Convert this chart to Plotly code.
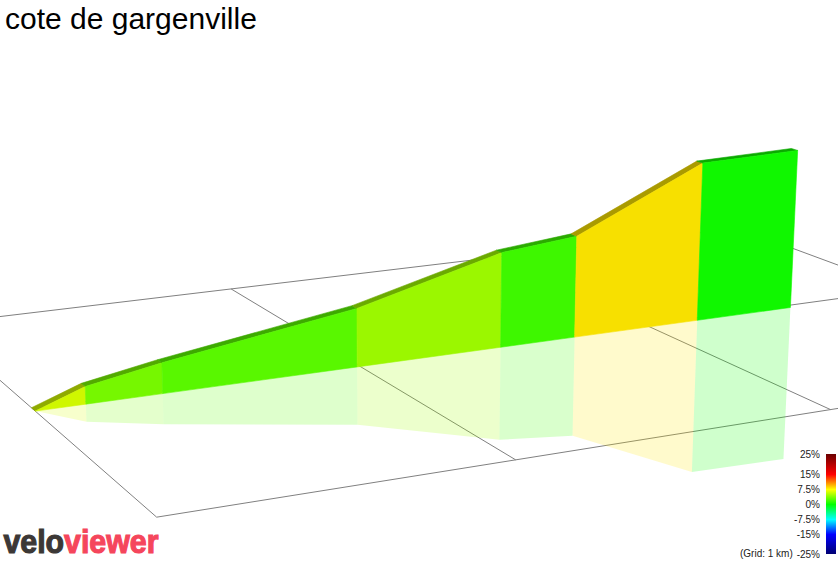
import numpy as np
import plotly.graph_objects as go

# --- profile data ---
title_text = "cote de gargenville"
distance_km = [0.0, 0.148, 0.378, 0.99, 1.471, 1.73, 2.176, 2.53]
elevation_m = [0.0, 10.1, 17.9, 35.0, 57.8, 62.4, 98.8, 100.5]
gradient_pct = [6.3, 3.6, 2.7, 4.7, 1.9, 8.2, 0.5]

# --- ground grid (km) ---
grid_x_km = [0, 1, 2, 3]
grid_y_km = [0, 1, 2]

# --- gradient legend ---
legend_values = [-25, -15, -7.5, 0, 7.5, 15, 25]
legend_labels = ["-25%", "-15%", "-7.5%", "0%", "7.5%", "15%", "25%"]
legend_rgb = [(0, 0, 110), (0, 0, 255), (0, 255, 255), (0, 255, 0),
              (255, 255, 0), (255, 0, 0), (110, 0, 0)]

# --- camera calibration: ground (km) to page pixels ---
CAL_GROUND = [(0, 0), (1, 0), (2, 0), (0, 1), (1, 1), (2, 1), (0, 2), (1, 2), (2, 2), (3, 2)]
CAL_PIXEL = [(156, 515.7), (514.3, 459.3), (830, 409.3), (32, 408), (358, 367),
             (649, 326.7), (-64.3, 324.3), (232.3, 289), (495.2, 256.5), (737.6, 227.2)]
A = []
for (gx, gy), (px, py) in zip(CAL_GROUND, CAL_PIXEL):
    A.append([gx, gy, 1, 0, 0, 0, -px * gx, -px * gy, -px])
    A.append([0, 0, 0, gx, gy, 1, -py * gx, -py * gy, -py])
H = np.linalg.svd(np.array(A, float))[2][-1].reshape(3, 3)
H = H / H[2, 2]
V_UP = np.array([390.0, 9000.0, 1.0])          # vanishing point of the vertical
W_END = (H @ np.array([2.53, 1.0, 1.0]))[2]
Z_K = 0.0177 * W_END / 100.5


def project(x_km, y_km, z_m):
    p = H @ np.array([x_km, y_km, 1.0]) - z_m * Z_K * V_UP
    return p[0] / p[2], p[1] / p[2]


def polygon(points):
    xy = [project(*p) for p in points]
    xy.append(xy[0])
    return [q[0] for q in xy], [q[1] for q in xy]


def grad_rgb(g):
    return [np.interp(g, legend_values, [c[i] for c in legend_rgb]) for i in range(3)]


def css(rgb, k=1.0, a=1.0):
    return "rgba(%d,%d,%d,%.3f)" % (rgb[0] * k, rgb[1] * k, rgb[2] * k, a)


fig = go.Figure()
GRID = "rgb(128,128,128)"
WALL_Y = 0.975
ROAD_W = 0.035


def add_poly(pts, color, line=None):
    xs, ys = polygon(pts)
    fig.add_trace(go.Scatter(x=xs, y=ys, mode="lines", fill="toself", fillcolor=color,
                             line=dict(width=0.6 if line else 0, color=line or color),
                             hoverinfo="skip", showlegend=False))


# ground grid
for gx in grid_x_km:
    xs, ys = zip(*[project(gx, gy, 0) for gy in (grid_y_km[0], grid_y_km[-1])])
    fig.add_trace(go.Scatter(x=xs, y=ys, mode="lines", line=dict(color=GRID, width=1),
                             hoverinfo="skip", showlegend=False))
for gy in grid_y_km:
    xs, ys = zip(*[project(gx, gy, 0) for gx in (grid_x_km[0], grid_x_km[-1])])
    fig.add_trace(go.Scatter(x=xs, y=ys, mode="lines", line=dict(color=GRID, width=1),
                             hoverinfo="skip", showlegend=False))

# mirrored reflection, wall and road surface, one panel per gradient section
for i, g in enumerate(gradient_pct):
    d0, d1 = distance_km[i], distance_km[i + 1]
    z0, z1 = elevation_m[i], elevation_m[i + 1]
    rgb = grad_rgb(g)
    add_poly([(d0, WALL_Y, 0), (d1, WALL_Y, 0), (d1, WALL_Y, -z1), (d0, WALL_Y, -z0)],
             css(rgb, 1.0, 0.2))
for i, g in enumerate(gradient_pct):
    d0, d1 = distance_km[i], distance_km[i + 1]
    z0, z1 = elevation_m[i], elevation_m[i + 1]
    rgb = grad_rgb(g)
    add_poly([(d0, WALL_Y, z0), (d1, WALL_Y, z1),
              (d1, WALL_Y + ROAD_W, z1), (d0, WALL_Y + ROAD_W, z0)],
             css(rgb, 0.67), css(rgb, 0.67))
    add_poly([(d0, WALL_Y, 0), (d1, WALL_Y, 0), (d1, WALL_Y, z1), (d0, WALL_Y, z0)],
             css(rgb, 0.97), css(rgb, 0.97))

# gradient legend, through its own axes
lo, hi = legend_values[0], legend_values[-1]
scale = [[(v - lo) / (hi - lo), css(c)] for v, c in zip(legend_values, legend_rgb)]
fig.add_trace(go.Heatmap(x=[0, 1], y=legend_values, z=[[v, v] for v in legend_values],
                         colorscale=scale, zmin=lo, zmax=hi, zsmooth="best",
                         showscale=False, hoverinfo="skip", xaxis="x2", yaxis="y2"))

W, HT = 838, 561
LOGO_FONT = "Liberation Sans"
INK, ROSE = "#3c3836", "#f5465c"
fig.update_layout(
    width=W, height=HT, margin=dict(l=0, r=0, t=0, b=0, autoexpand=False),
    paper_bgcolor="white", plot_bgcolor="white", showlegend=False,
    xaxis=dict(range=[0, W], visible=False, domain=[0, 1], automargin=False),
    yaxis=dict(range=[HT, 0], visible=False, domain=[0, 1], automargin=False),
    xaxis2=dict(range=[0, 1], domain=[826 / W, 836 / W], visible=False, anchor="y2", automargin=False),
    yaxis2=dict(range=[lo, hi], domain=[(HT - 554) / HT, (HT - 454) / HT], anchor="x2",
                tickmode="array", tickvals=legend_values, ticktext=legend_labels,
                side="left", ticks="", showgrid=False, zeroline=False, showline=False,
                automargin=False,
                tickfont=dict(family="Liberation Sans", size=10, color="#222222"),
                ticklabelstandoff=5),
    annotations=[
        dict(text=title_text, x=3, y=18, xref="x", yref="y", xanchor="left", yanchor="middle",
             showarrow=False, font=dict(family="Liberation Sans", size=30, color="black")),
        dict(text="(Grid: 1 km)", x=795, y=553, xref="x", yref="y", xanchor="right", yanchor="middle",
             showarrow=False, font=dict(family="Liberation Sans", size=10, color="#222222")),
        dict(text=f"velo<span style='color:{ROSE}'>viewer</span>", x=80.5, y=561, xref="x", yref="y",
             xanchor="center", yanchor="bottom", showarrow=False, borderpad=0,
             font=dict(family=LOGO_FONT, size=34, color=INK, weight="bold")),
    ],
)
# squeeze the logo to its condensed width and thicken its strokes
squeeze = """
document.querySelectorAll('.annotation-text').forEach(function(t){
  if (t.textContent === 'veloviewer') {
    t.setAttribute('textLength', 155);
    t.setAttribute('lengthAdjust', 'spacingAndGlyphs');
    t.style.stroke = '%s';
    t.style.strokeWidth = '1.2px';
    t.querySelectorAll('tspan').forEach(function(s){ s.style.stroke = s.style.fill; });
  }
});
document.body.style.margin='0';
""" % INK
fig.write_html("out.html", post_script=squeeze, config=dict(displayModeBar=False))
